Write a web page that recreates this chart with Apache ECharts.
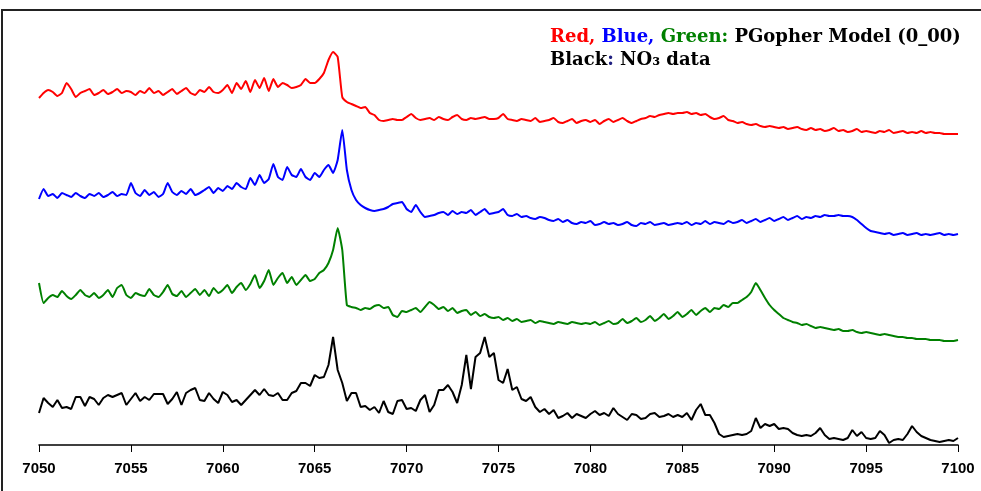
<!DOCTYPE html>
<html>
<head>
<meta charset="utf-8">
<script src="https://cdn.jsdelivr.net/npm/echarts@6/dist/echarts.min.js"></script>
<style>html,body{margin:0;padding:0;background:#fff}#c{width:981px;height:491px}</style>
</head>
<body>
<div id="c"></div>
<script>
// Wavenumber grid (cm^-1): 7050 .. 7100 in 0.25 steps
const xStart = 7050, xStep = 0.25, nPts = 201;
const xTicks = [7050, 7055, 7060, 7065, 7070, 7075, 7080, 7085, 7090, 7095, 7100];

// Displayed intensities (arbitrary units, each trace vertically offset)
const redModel = [
  347,352,355,353,349,352,362,356,348,352,354,356,350,352,355,351,353,356,352,354,
  353,350,354,352,357,352,354,350,353,356,351,354,357,352,350,355,353,358,353,352,
  355,360,352,362,356,364,353,365,357,367,354,366,358,362,360,357,358,360,366,362,
  362,366,372,385,393,388,348,343,341,339,337,338,332,330,325,324,325,326,325,325,
  328,331,327,325,326,327,325,328,326,325,328,330,326,325,327,326,327,328,326,326,
  327,331,326,325,324,326,325,324,327,323,324,325,327,323,322,324,326,322,324,325,
  323,325,321,324,326,323,325,327,324,322,324,326,327,329,328,330,331,332,331,332,
  332,333,331,332,330,331,328,326,327,329,325,324,322,323,321,320,321,319,318,319,
  318,317,318,316,317,318,316,315,317,315,316,314,315,317,314,315,313,314,316,313,
  314,313,312,314,313,315,312,313,314,312,313,312,314,312,313,312,312,311,311,311,
  311
];
const blueModel = [
  246,256,249,251,247,252,250,248,252,249,247,251,249,252,248,250,253,249,251,250,
  262,252,249,255,250,253,248,251,262,253,250,254,251,256,250,252,255,258,252,257,
  254,259,256,262,258,256,267,260,270,262,266,281,268,265,278,270,268,276,268,265,
  272,268,275,280,272,285,315,275,255,245,240,237,235,234,235,236,238,241,242,243,
  236,233,240,233,228,229,230,232,233,230,234,231,233,232,235,230,233,236,231,232,
  233,236,230,229,231,228,229,227,226,228,227,225,224,226,223,225,222,221,223,222,
  224,220,221,223,221,222,220,221,223,220,219,222,221,223,220,221,222,220,221,222,
  221,223,220,222,221,224,221,223,222,221,224,222,223,225,222,224,226,223,225,227,
  224,226,228,225,227,229,226,228,227,229,228,230,229,229,230,229,229,228,225,221,
  217,214,213,212,211,212,210,211,212,210,211,212,210,211,210,211,212,210,211,210,
  211
];
const greenModel = [
  162,142,147,150,148,154,149,146,150,155,150,148,152,147,150,155,148,157,160,150,
  147,152,150,149,156,150,148,153,160,151,149,154,148,152,156,150,155,149,157,152,
  155,160,152,158,162,155,161,170,157,164,175,160,167,172,162,168,160,165,170,164,
  166,172,175,182,195,217,195,140,138,137,135,137,136,139,140,137,138,130,128,134,
  133,135,137,133,138,143,140,136,138,134,137,132,134,135,130,133,129,131,128,127,
  128,125,127,124,126,123,124,125,122,124,123,122,121,123,122,121,123,122,121,122,
  121,123,120,122,124,121,122,126,122,124,127,123,125,129,124,127,131,126,129,133,
  128,131,135,130,134,137,133,137,136,140,138,142,142,145,148,153,162,155,147,140,
  135,131,127,125,123,122,120,121,119,117,118,117,116,115,116,114,114,115,113,112,
  113,112,111,110,111,110,109,108,108,107,107,106,106,106,105,105,105,104,104,104,
  105
];
const no3Data = [
  32,47,42,38,45,37,38,36,48,48,39,48,46,40,47,50,48,50,52,40,
  46,52,44,48,45,51,51,51,41,46,53,40,52,55,57,45,44,52,46,42,
  53,50,43,45,40,45,50,55,50,56,50,49,52,45,45,52,54,62,62,59,
  70,67,68,80,108,75,62,44,52,52,38,39,35,38,32,44,33,31,44,45,
  36,37,34,45,50,33,40,55,55,60,53,42,60,90,56,88,92,108,88,92,
  65,62,76,55,58,46,44,48,38,33,36,31,35,27,29,32,27,31,29,27,
  31,34,30,32,29,37,31,28,25,31,30,26,27,31,32,28,29,31,28,30,
  28,32,25,35,41,30,30,22,11,8,9,10,11,10,11,14,27,17,21,19,
  21,16,17,16,12,10,9,10,9,12,17,10,6,7,6,5,7,15,9,13,
  7,6,7,14,10,2,5,6,5,11,19,13,9,7,5,4,3,4,5,4,
  7
];

const legendLine1 = ['Red, ', 'Blue, ', 'Green: ', 'PGopher Model (0_00)'];
const legendLine2 = ['Black', ': ', 'NO\u2083 data'];

function pairs(vals) {
  return vals.map((v, i) => [xStart + i * xStep, v]);
}

const chart = echarts.init(document.getElementById('c'), null, {renderer: 'canvas'});
const serifFont = '"DejaVu Serif", "Liberation Serif", serif';
const legFont = {fontFamily: serifFont, fontWeight: 'bold', fontSize: 18, lineHeight: 23};
chart.setOption({
  animation: false,
  backgroundColor: '#ffffff',
  title: {
    left: 545, top: 21,
    text: '{r|' + legendLine1[0] + '}{b|' + legendLine1[1] + '}{g|' + legendLine1[2] + '}{k|' + legendLine1[3] + '}\n' +
          '{k|' + legendLine2[0] + '}{c|' + legendLine2[1] + '}{k|' + legendLine2[2] + '}',
    textStyle: {
      rich: {
        r: Object.assign({color: '#ff0000'}, legFont),
        b: Object.assign({color: '#0000ff'}, legFont),
        g: Object.assign({color: '#008000'}, legFont),
        k: Object.assign({color: '#000000'}, legFont),
        c: Object.assign({color: '#202080'}, legFont)
      }
    }
  },
  graphic: [{
    type: 'rect', silent: true,
    shape: {x: 2, y: 10, width: 1200, height: 700},
    style: {fill: 'none', stroke: '#222', lineWidth: 2}
  }],
  grid: {left: 39, right: 23, top: 10, bottom: 46, containLabel: false},
  xAxis: {
    type: 'value', min: 7050, max: 7100, interval: 5,
    axisLine: {show: true, lineStyle: {color: '#000', width: 1.5}},
    axisTick: {show: true, length: 7, lineStyle: {color: '#000', width: 1}},
    axisLabel: {
      color: '#000', fontFamily: '"Liberation Sans", Arial, sans-serif', fontWeight: 'bold', fontSize: 15, margin: 16,
      formatter: v => xTicks.includes(v) ? String(v) : ''
    },
    splitLine: {show: false}
  },
  yAxis: {
    type: 'value', min: 0, max: 435,
    show: false, splitLine: {show: false}
  },
  series: [
    {name: 'Red', type: 'line', data: pairs(redModel), showSymbol: false, smooth: 0.15,
     lineStyle: {color: '#ff0000', width: 2}, itemStyle: {color: '#ff0000'}},
    {name: 'Blue', type: 'line', data: pairs(blueModel), showSymbol: false, smooth: 0.15,
     lineStyle: {color: '#0000ff', width: 2}, itemStyle: {color: '#0000ff'}},
    {name: 'Green', type: 'line', data: pairs(greenModel), showSymbol: false, smooth: 0.15,
     lineStyle: {color: '#008000', width: 2}, itemStyle: {color: '#008000'}},
    {name: 'NO3 data', type: 'line', data: pairs(no3Data), showSymbol: false, smooth: false,
     lineStyle: {color: '#000000', width: 2}, itemStyle: {color: '#000000'}}
  ]
});
</script>
</body>
</html>
